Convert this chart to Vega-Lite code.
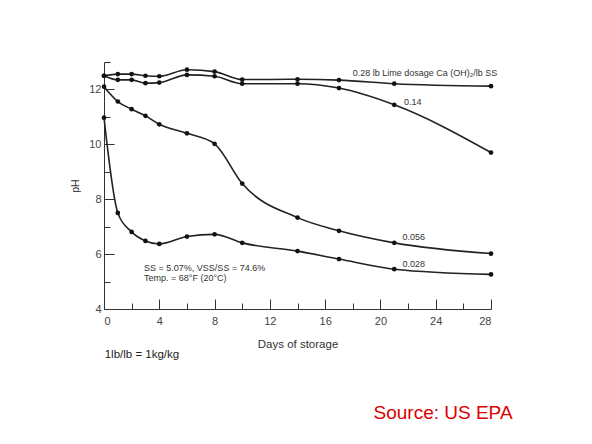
{
  "$schema": "https://vega.github.io/schema/vega-lite/v6.json",
  "width": 387,
  "height": 247,
  "autosize": {"type": "none"},
  "padding": {"left": 104, "top": 62, "right": 101, "bottom": 135},
  "background": "white",
  "config": {
    "view": {"stroke": null},
    "font": "Liberation Sans",
    "axis": {
      "grid": false,
      "domainColor": "#333",
      "tickColor": "#333",
      "labelColor": "#444",
      "titleColor": "#333",
      "labelFont": "Liberation Sans",
      "titleFont": "Liberation Sans",
      "titleFontWeight": "normal"
    }
  },
  "datasets": {
    "obs": [
      {"dose": "0.28", "day": 0, "ph": 12.5},
      {"dose": "0.28", "day": 1, "ph": 12.56},
      {"dose": "0.28", "day": 2, "ph": 12.56},
      {"dose": "0.28", "day": 3, "ph": 12.5},
      {"dose": "0.28", "day": 4, "ph": 12.48},
      {"dose": "0.28", "day": 6, "ph": 12.72},
      {"dose": "0.28", "day": 8, "ph": 12.65},
      {"dose": "0.28", "day": 10, "ph": 12.36},
      {"dose": "0.28", "day": 14, "ph": 12.37},
      {"dose": "0.28", "day": 17, "ph": 12.34},
      {"dose": "0.28", "day": 21, "ph": 12.21},
      {"dose": "0.28", "day": 28, "ph": 12.12},
      {"dose": "0.14", "day": 0, "ph": 12.5},
      {"dose": "0.14", "day": 1, "ph": 12.35},
      {"dose": "0.14", "day": 2, "ph": 12.35},
      {"dose": "0.14", "day": 3, "ph": 12.23},
      {"dose": "0.14", "day": 4, "ph": 12.25},
      {"dose": "0.14", "day": 6, "ph": 12.53},
      {"dose": "0.14", "day": 8, "ph": 12.48},
      {"dose": "0.14", "day": 10, "ph": 12.21},
      {"dose": "0.14", "day": 14, "ph": 12.21},
      {"dose": "0.14", "day": 17, "ph": 12.05},
      {"dose": "0.14", "day": 21, "ph": 11.44},
      {"dose": "0.14", "day": 28, "ph": 9.7},
      {"dose": "0.056", "day": 0, "ph": 12.1},
      {"dose": "0.056", "day": 1, "ph": 11.56},
      {"dose": "0.056", "day": 2, "ph": 11.28},
      {"dose": "0.056", "day": 3, "ph": 11.04},
      {"dose": "0.056", "day": 4, "ph": 10.73},
      {"dose": "0.056", "day": 6, "ph": 10.4},
      {"dose": "0.056", "day": 8, "ph": 10.02},
      {"dose": "0.056", "day": 10, "ph": 8.57},
      {"dose": "0.056", "day": 14, "ph": 7.33},
      {"dose": "0.056", "day": 17, "ph": 6.85},
      {"dose": "0.056", "day": 21, "ph": 6.41},
      {"dose": "0.056", "day": 28, "ph": 6.02},
      {"dose": "0.028", "day": 0, "ph": 10.97},
      {"dose": "0.028", "day": 1, "ph": 7.5},
      {"dose": "0.028", "day": 2, "ph": 6.81},
      {"dose": "0.028", "day": 3, "ph": 6.48},
      {"dose": "0.028", "day": 4, "ph": 6.37},
      {"dose": "0.028", "day": 6, "ph": 6.64},
      {"dose": "0.028", "day": 8, "ph": 6.72},
      {"dose": "0.028", "day": 10, "ph": 6.41},
      {"dose": "0.028", "day": 14, "ph": 6.11},
      {"dose": "0.028", "day": 17, "ph": 5.82},
      {"dose": "0.028", "day": 21, "ph": 5.45},
      {"dose": "0.028", "day": 28, "ph": 5.26}
    ],
    "notes": [
      {"note": "0.28 lb Lime dosage Ca (OH)₂/lb SS", "day": 18.0, "ph": 12.6},
      {"note": "0.14", "day": 21.7, "ph": 11.54},
      {"note": "0.056", "day": 21.6, "ph": 6.61},
      {"note": "0.028", "day": 21.6, "ph": 5.64},
      {"note": "SS = 5.07%, VSS/SS = 74.6%", "day": 2.9, "ph": 5.48},
      {"note": "Temp. = 68°F (20°C)", "day": 2.9, "ph": 5.12}
    ],
    "footnote": [
      {"note": "1lb/lb = 1kg/kg", "day": 0.05, "ph": 2.33}
    ],
    "source": [
      {"note": "Source: US EPA", "day": 19.5, "ph": 0.22}
    ]
  },
  "layer": [
    {
      "data": {"name": "obs"},
      "mark": {"type": "line", "interpolate": "monotone", "color": "#222", "strokeWidth": 1.6},
      "encoding": {
        "x": {
          "field": "day", "type": "quantitative",
          "scale": {"domain": [0, 28], "nice": false, "zero": false},
          "axis": {"orient": "bottom", "values": [0, 4, 8, 12, 16, 20, 24, 28], "tickSize": -10, "labelPadding": 16, "labelFontSize": 11, "title": "Days of storage", "titleFontSize": 11.5, "titlePadding": 12}
        },
        "y": {
          "field": "ph", "type": "quantitative",
          "scale": {"domain": [4, 13], "nice": false, "zero": false},
          "axis": {"orient": "left", "values": [4, 6, 8, 10, 12], "tickSize": -10, "labelPadding": 13, "labelFontSize": 11, "title": "pH", "titleFontSize": 10.5, "titlePadding": 8}
        },
        "detail": {"field": "dose"}
      }
    },
    {
      "data": {"name": "obs"},
      "mark": {"type": "point", "filled": true, "color": "#111", "size": 22, "opacity": 1},
      "encoding": {
        "x": {
          "field": "day", "type": "quantitative",
          "scale": {"domain": [0, 28], "nice": false, "zero": false},
          "axis": {"orient": "bottom", "values": [2, 6, 10, 14, 18, 22, 26], "tickSize": -6, "labels": false, "domain": false, "title": null}
        },
        "y": {
          "field": "ph", "type": "quantitative",
          "scale": {"domain": [4, 13], "nice": false, "zero": false},
          "axis": {"orient": "left", "values": [5, 7, 9, 11, 13], "tickSize": -6, "labels": false, "domain": false, "title": null}
        }
      }
    },
    {
      "data": {"name": "notes"},
      "mark": {"type": "text", "align": "left", "baseline": "middle", "font": "Liberation Sans", "fontSize": 9, "color": "#333"},
      "encoding": {
        "x": {"field": "day", "type": "quantitative", "scale": {"domain": [0, 28], "nice": false, "zero": false}, "axis": null},
        "y": {"field": "ph", "type": "quantitative", "scale": {"domain": [4, 13], "nice": false, "zero": false}, "axis": null},
        "text": {"field": "note"}
      }
    },
    {
      "data": {"name": "footnote"},
      "mark": {"type": "text", "align": "left", "baseline": "middle", "font": "Liberation Sans", "fontSize": 11.5, "color": "#222"},
      "encoding": {
        "x": {"field": "day", "type": "quantitative", "scale": {"domain": [0, 28], "nice": false, "zero": false}, "axis": null},
        "y": {"field": "ph", "type": "quantitative", "scale": {"domain": [4, 13], "nice": false, "zero": false}, "axis": null},
        "text": {"field": "note"}
      }
    },
    {
      "data": {"name": "source"},
      "mark": {"type": "text", "align": "left", "baseline": "middle", "font": "Liberation Sans", "fontSize": 19, "color": "#dd0000"},
      "encoding": {
        "x": {"field": "day", "type": "quantitative", "scale": {"domain": [0, 28], "nice": false, "zero": false}, "axis": null},
        "y": {"field": "ph", "type": "quantitative", "scale": {"domain": [4, 13], "nice": false, "zero": false}, "axis": null},
        "text": {"field": "note"}
      }
    }
  ],
  "resolve": {"axis": {"x": "independent", "y": "independent"}}
}
